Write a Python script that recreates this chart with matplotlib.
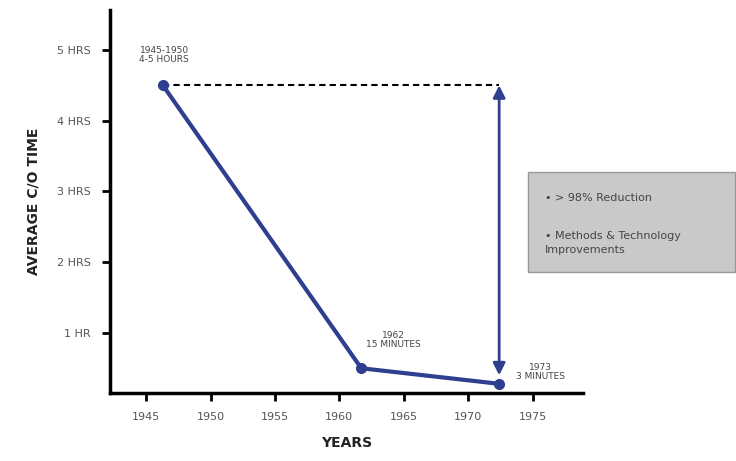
import matplotlib
matplotlib.use("Agg")
import matplotlib.pyplot as plt
from matplotlib.patches import FancyArrowPatch, Rectangle

years = [1946.3, 1961.7, 1972.4]
hours = [4.5, 0.5, 0.28]
point_labels = ["1945-1950\n4-5 HOURS", "1962\n15 MINUTES", "1973\n3 MINUTES"]
xticks = [1945, 1950, 1955, 1960, 1965, 1970, 1975]
yticks = [1, 2, 3, 4, 5]
ytick_labels = ["1 HR", "2 HRS", "3 HRS", "4 HRS", "5 HRS"]
box_lines = ["• > 98% Reduction", "• Methods & Technology\nImprovements"]

blue = "#2f3f8f"
fig = plt.figure(figsize=(7.36, 4.61), dpi=100)
ax = fig.add_axes([0.1495, 0.1475, 0.6425, 0.83])
ax.set_xlim(1942.2, 1978.9)
ax.set_ylim(0.15, 5.56)

ax.plot(years, hours, color=blue, lw=3, marker="o", ms=7, zorder=3)
ax.plot([years[0], years[2]], [hours[0], hours[0]], color="black", lw=1.5,
        ls=(0, (3, 2)), zorder=2)
arr = FancyArrowPatch((years[2], hours[0]), (years[2], 0.4), arrowstyle="<|-|>",
                      mutation_scale=18, color=blue, lw=2, shrinkA=0, shrinkB=0)
ax.add_patch(arr)

ax.text(years[0] + 0.1, 4.93, point_labels[0], ha="center", va="center",
        fontsize=6.5, color="#444", linespacing=1.0)
ax.text(years[1] + 2.5, 0.9, point_labels[1], ha="center", va="center",
        fontsize=6.5, color="#444", linespacing=1.0)
ax.text(years[2] + 3.2, 0.45, point_labels[2], ha="center", va="center",
        fontsize=6.5, color="#444", linespacing=1.0)

ax.set_xticks(xticks)
ax.set_xticklabels([str(x) for x in xticks], color="#555", fontsize=8)
ax.set_yticks(yticks)
ax.set_yticklabels(ytick_labels, color="#555", fontsize=8)
ax.tick_params(axis="both", direction="out", length=6, width=2, color="black", pad=8)
for s in ["top", "right"]:
    ax.spines[s].set_visible(False)
for s in ["left", "bottom"]:
    ax.spines[s].set_linewidth(2.5)

ax.set_xlabel("YEARS", fontsize=10, fontweight="bold", color="#222", labelpad=10)
ax.set_ylabel("AVERAGE C/O TIME", fontsize=10, fontweight="bold", color="#222", labelpad=12)

fig.patches.append(Rectangle((528 / 736, 1 - 272 / 461), 207 / 736, 100 / 461,
                             transform=fig.transFigure, facecolor="#c9c9c9",
                             edgecolor="#999", lw=1))
fig.text(545 / 736, 1 - 198 / 461, box_lines[0], fontsize=8, color="#444", va="center")
fig.text(545 / 736, 1 - 243 / 461, box_lines[1], fontsize=8, color="#444", va="center",
         linespacing=1.5)

fig.savefig("out.png", dpi=100)
